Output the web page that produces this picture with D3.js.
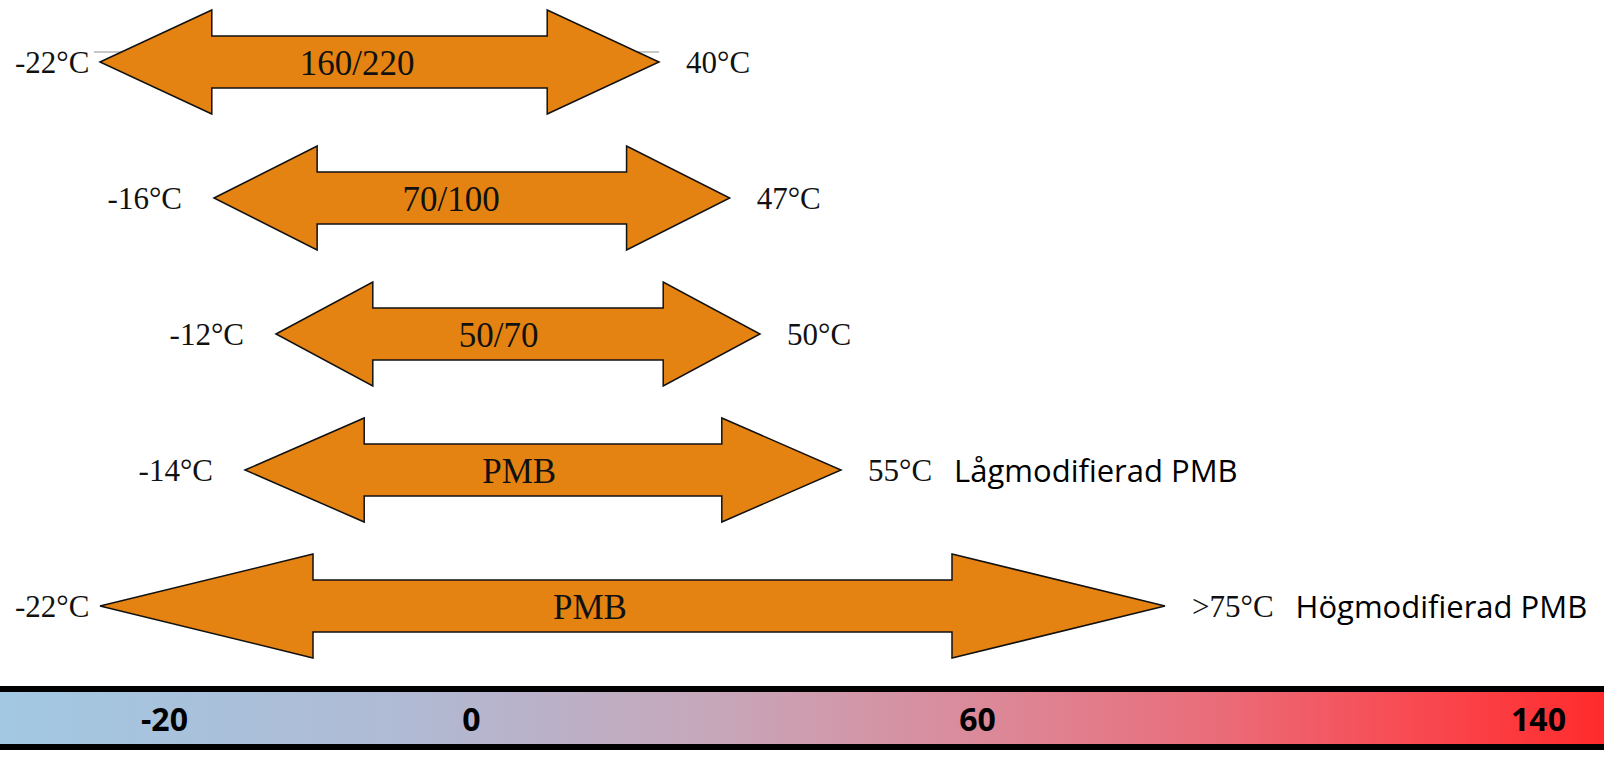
<!DOCTYPE html>
<html>
<head>
<meta charset="utf-8">
<script src="https://cdn.jsdelivr.net/npm/d3@7"></script>
<style>
  body { margin: 0; background: #fff; }
  svg { display: block; }
</style>
</head>
<body>
<svg id="chart" width="1604" height="766"></svg>
<script>
// bitumen grades and their temperature ranges
var grades = ["160/220", "70/100", "50/70", "PMB", "PMB"]
var lowTemp = [-22, -16, -12, -14, -22]
var highTemp = [40, 47, 50, 55, 75]
var highPrefix = ["", "", "", "", ">"]
var groupNames = ["", "", "", "Lågmodifierad PMB", "Högmodifierad PMB"]

// temperature bar at the bottom
var barTicks = [-20, 0, 60, 140]

var svg = d3.select('#chart')
var width = 1604

var serif = '"Liberation Serif", "Times New Roman", serif'
var sans = '"Open Sans", "Noto Sans", sans-serif'

// the drawing is schematic, so the temperature axis is piecewise
var x = d3.scaleLinear()
    .domain([-22, -16, -12, 40, 50, 75])
    .range([100, 214, 276, 659, 760, 1165])

var y = d3.scalePoint()
    .domain(d3.range(grades.length))
    .range([62, 606])

var xBar = d3.scaleLinear()
    .domain(barTicks)
    .range([164, 471, 977, 1538])

var rows = grades.map((g, i) => ({
    grade: g, low: lowTemp[i], high: highTemp[i],
    prefix: highPrefix[i], group: groupNames[i], i: i
}))

var half = 52, shaft = 26

function arrowPoints(d) {
    var x0 = x(d.low), x1 = x(d.high), cy = y(d.i)
    var head = 0.2 * (x1 - x0)
    return [
        [x0, cy], [x0 + head, cy - half], [x0 + head, cy - shaft],
        [x1 - head, cy - shaft], [x1 - head, cy - half], [x1, cy],
        [x1 - head, cy + half], [x1 - head, cy + shaft],
        [x0 + head, cy + shaft], [x0 + head, cy + half]
    ]
}

var line = d3.line()

// thin grey guide line behind the first arrow
svg.append('line')
    .attr('x1', x(lowTemp[0]) - 6)
    .attr('x2', x(highTemp[0]))
    .attr('y1', y(0) - 10)
    .attr('y2', y(0) - 10)
    .attr('stroke', '#b4b4b4')
    .attr('stroke-width', 1.3)

svg.append('g').selectAll('path')
    .data(rows)
    .enter().append('path')
    .attr('d', d => line(arrowPoints(d)) + 'Z')
    .attr('fill', '#e58312')
    .attr('stroke', '#111')
    .attr('stroke-width', 1.5)

// grade labels inside the arrows
svg.append('g').selectAll('text')
    .data(rows)
    .enter().append('text')
    .attr('x', d => x(d.low) + 0.46 * (x(d.high) - x(d.low)))
    .attr('y', d => y(d.i) + 13)
    .attr('text-anchor', 'middle')
    .attr('font-family', serif)
    .attr('font-size', '35px')
    .attr('fill', '#111')
    .text(d => d.grade)

// low temperatures on the left
svg.append('g').selectAll('text')
    .data(rows)
    .enter().append('text')
    .attr('y', d => y(d.i) + 11)
    .attr('text-anchor', 'end')
    .attr('font-family', serif)
    .attr('font-size', '31px')
    .attr('fill', '#111')
    .text(d => d.low + '°C')
    .attr('x', function(d) {
        var w = this.getComputedTextLength()
        return Math.max(x(d.low) - 32, 15 + w)
    })

// high temperatures on the right
var highLabels = svg.append('g').selectAll('text')
    .data(rows)
    .enter().append('text')
    .attr('x', d => x(d.high) + 27)
    .attr('y', d => y(d.i) + 11)
    .attr('font-family', serif)
    .attr('font-size', '31px')
    .attr('fill', '#111')
    .text(d => d.prefix + d.high + '°C')

var ends = []
highLabels.each(function(d) { ends[d.i] = x(d.high) + 27 + this.getComputedTextLength() })

svg.append('g').selectAll('text')
    .data(rows.filter(d => d.group))
    .enter().append('text')
    .attr('x', d => ends[d.i] + 22)
    .attr('y', d => y(d.i) + 12)
    .attr('font-family', sans)
    .attr('font-size', '31px')
    .attr('fill', '#000')
    .text(d => d.group)

// colour bar
var defs = svg.append('defs')
var grad = defs.append('linearGradient').attr('id', 'tempGrad')
var stops = [
    [0, '#a2c8e2'], [0.25, '#b0bad4'], [0.45, '#c7a6b9'],
    [0.62, '#dc8898'], [0.76, '#ea6c79'], [0.88, '#f84a52'], [1, '#ff2b2c']
]
grad.selectAll('stop').data(stops)
    .enter().append('stop')
    .attr('offset', d => d[0])
    .attr('stop-color', d => d[1])

var barTop = 686
svg.append('rect')
    .attr('x', 0).attr('y', barTop)
    .attr('width', width).attr('height', 64)
    .attr('fill', '#000')
svg.append('rect')
    .attr('x', 0).attr('y', barTop + 6)
    .attr('width', width).attr('height', 52)
    .attr('fill', 'url(#tempGrad)')

var barAxis = g => g
    .attr('transform', 'translate(0,708)')
    .call(d3.axisBottom(xBar).tickValues(barTicks).tickSize(0).tickPadding(0)
        .tickFormat(d => String(d)))
    .call(g => g.select('.domain').remove())
    .call(g => g.selectAll('text')
        .attr('font-family', sans)
        .attr('font-weight', 'bold')
        .attr('font-size', '32px')
        .attr('fill', '#000'))

svg.append('g').call(barAxis)
</script>
</body>
</html>
